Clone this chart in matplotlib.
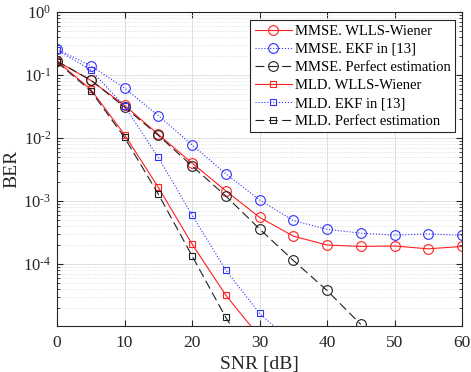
import matplotlib
matplotlib.use("Agg")
import matplotlib.pyplot as plt

plt.rcParams['font.family'] = ['Liberation Serif', 'DejaVu Serif']
plt.rcParams['mathtext.fontset'] = 'stix'

snr = [0, 5, 10, 15, 20, 25, 30, 35, 40, 45, 50, 55, 60]

# MMSE detection
mmse_wlls = [0.165, 0.082, 0.033, 0.0114, 0.0040, 1.45e-3, 5.5e-4, 2.77e-4, 2.0e-4, 1.9e-4, 1.93e-4, 1.74e-4, 1.9e-4]
mmse_ekf = [0.255, 0.14, 0.062, 0.0226, 0.0078, 2.7e-3, 1.04e-3, 4.9e-4, 3.55e-4, 3.08e-4, 2.88e-4, 3.0e-4, 2.85e-4]
snr_mmse_perf = [0, 5, 10, 15, 20, 25, 30, 35, 40, 45]
mmse_perf = [0.165, 0.083, 0.031, 0.011, 0.0036, 1.2e-3, 3.6e-4, 1.14e-4, 3.8e-5, 1.1e-5]

# MLD detection
snr_mld_wlls = [0, 5, 10, 15, 20, 25, 30]
mld_wlls = [0.165, 0.059, 0.0113, 1.65e-3, 2.08e-4, 3.2e-5, 7e-6]
snr_mld_ekf = [0, 5, 10, 15, 20, 25, 30, 35]
mld_ekf = [0.25, 0.12, 0.032, 0.0049, 6.0e-4, 8.0e-5, 1.65e-5, 5.4e-6]
snr_mld_perf = [0, 5, 10, 15, 20, 25, 30]
mld_perf = [0.16, 0.056, 0.0102, 1.29e-3, 1.35e-4, 1.42e-5, 2e-6]

ytick_vals = [1e-4, 1e-3, 1e-2, 1e-1, 1]
ytick_labels = [r'$\mathregular{10^{\text{-}4}}$', r'$\mathregular{10^{\text{-}3}}$',
                r'$\mathregular{10^{\text{-}2}}$', r'$\mathregular{10^{\text{-}1}}$',
                r'$\mathregular{10^{0}}$']

fig = plt.figure(figsize=(4.71, 3.72), dpi=100)
ax = fig.add_axes([0.121, 0.1245, 0.860, 0.8435])

lw = 0.8
ax.plot(snr, mmse_wlls, color='#ff2020', ls='-', lw=lw, marker='o', ms=7, mfc='none', mew=0.8,
        label='MMSE. WLLS-Wiener')
ax.plot(snr, mmse_ekf, color='#3030ff', ls=':', lw=lw, marker='o', ms=7, mfc='none', mew=0.8,
        label='MMSE. EKF in [13]')
ax.plot(snr_mmse_perf, mmse_perf, color='#202020', ls=(0, (8, 4)), lw=lw, marker='o', ms=7, mfc='none', mew=0.8,
        label='MMSE. Perfect estimation')
ax.plot(snr_mld_wlls, mld_wlls, color='#ff2020', ls='-', lw=lw, marker='s', ms=5, mfc='none', mew=0.8,
        label='MLD. WLLS-Wiener')
ax.plot(snr_mld_ekf, mld_ekf, color='#3030ff', ls=':', lw=lw, marker='s', ms=5, mfc='none', mew=0.8,
        label='MLD. EKF in [13]')
ax.plot(snr_mld_perf, mld_perf, color='#202020', ls=(0, (8, 4)), lw=lw, marker='s', ms=5, mfc='none', mew=0.8,
        label='MLD. Perfect estimation')

ax.set_yscale('log')
ax.set_xlim(0, 60)
ax.set_ylim(1.05e-5, 1)
ax.set_xticks([0, 10, 20, 30, 40, 50, 60])
ax.set_yticks(ytick_vals)
ax.set_yticklabels(ytick_labels)

ax.grid(True, which='major', color='#e0e0e0', lw=0.7, ls='-')
ax.grid(True, which='minor', color='#d8d8d8', lw=0.6, ls=':')
ax.set_axisbelow(True)
ax.tick_params(which='both', direction='in', top=True, right=True, colors='#262626')
ax.tick_params(axis='x', labelsize=12.5, pad=7)
ax.tick_params(axis='y', labelsize=12, pad=4)
ax.tick_params(which='major', length=4)
ax.tick_params(which='minor', length=2)
for s in ax.spines.values():
    s.set_color('#262626')
    s.set_linewidth(0.8)

ax.set_xlabel('SNR [dB]', fontsize=14, color='#262626', labelpad=3)
ax.set_ylabel('BER', fontsize=14, color='#262626')
ax.yaxis.set_label_coords(-0.09, 0.5)

leg = ax.legend(loc='upper right', fontsize=10.5, fancybox=False, framealpha=1,
                edgecolor='#262626', handlelength=2.6, bbox_to_anchor=(0.982, 0.973),
                labelspacing=0.33, handletextpad=0.15, borderpad=0.3, borderaxespad=0)
leg.get_frame().set_linewidth(0.8)

fig.savefig('out.png', dpi=100)
